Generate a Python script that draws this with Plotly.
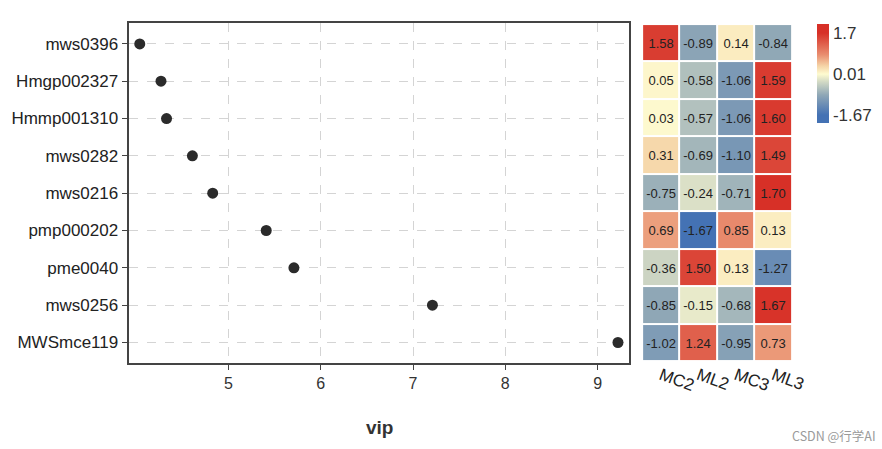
import plotly.graph_objs as go

# 代谢物（自上而下）
features = ['mws0396', 'Hmgp002327', 'Hmmp001310', 'mws0282', 'mws0216',
            'pmp000202', 'pme0040', 'mws0256', 'MWSmce119']
vip = [4.04, 4.27, 4.33, 4.61, 4.83, 5.41, 5.71, 7.21, 9.22]

groups = ['MC2', 'ML2', 'MC3', 'ML3']
mc2 = [1.58, 0.05, 0.03, 0.31, -0.75, 0.69, -0.36, -0.85, -1.02]
ml2 = [-0.89, -0.58, -0.57, -0.69, -0.24, -1.67, 1.50, -0.15, 1.24]
mc3 = [0.14, -1.06, -1.06, -1.10, -0.71, 0.85, 0.13, -0.68, -0.95]
ml3 = [-0.84, 1.59, 1.60, 1.49, 1.70, 0.13, -1.27, 1.67, 0.73]

cb_vals = [-1.67, 0.01, 1.7]
cb_text = ['-1.67', '0.01', '1.7']

z = [list(r) for r in zip(mc2, ml2, mc3, ml3)]
font_family = 'Arial, Liberation Sans, sans-serif'

# colour bar in the reference runs a bit past the data limits
zlo, zhi = -2.0, 2.07
def pos(v):
    return (v - zlo) / (zhi - zlo)

cscale = [[0, '#4472b4'], [pos(-1.67), '#4472b4'], [pos(-0.85), '#8fa7b6'],
          [pos(-0.3), '#d3dac5'], [pos(0.01), '#fefbd0'], [pos(0.35), '#f5d3a6'],
          [pos(0.8), '#e98e70'], [pos(1.7), '#d73027'], [1, '#d73027']]

dot = go.Scatter(x=vip, y=features, mode='markers', xaxis='x', yaxis='y',
                 marker=dict(size=11, color='#2b2b2b'), showlegend=False)

heat = go.Heatmap(z=z, x=groups, y=features, xaxis='x2', yaxis='y2',
                  zmin=zlo, zmax=zhi, xgap=2, ygap=2, colorscale=cscale,
                  texttemplate='%{z:.2f}', textfont=dict(size=13, color='#222'),
                  colorbar=dict(x=817 / 882, xanchor='left', xpad=0,
                                y=1 - 24 / 449, yanchor='top', ypad=0,
                                thickness=12, thicknessmode='pixels',
                                len=99, lenmode='pixels', outlinewidth=0,
                                tickvals=cb_vals, ticktext=cb_text,
                                ticks='', tickfont=dict(size=17, color='#333')))

layout = go.Layout(
    width=882, height=449,
    margin=dict(l=0, r=0, t=0, b=0),
    paper_bgcolor='white', plot_bgcolor='white',
    font=dict(family=font_family, color='#222'),
    xaxis=dict(domain=[0.1458, 0.7135], range=[3.919, 9.343],
               tickvals=[5, 6, 7, 8, 9], ticks='outside', ticklen=5,
               tickcolor='#444', tickfont=dict(size=16, color='#333'),
               showgrid=True, gridcolor='#d4d4d4', griddash='dash',
               showline=True, linecolor='#444', linewidth=2, mirror=True,
               zeroline=False, automargin=False),
    yaxis=dict(domain=[0.1915, 0.948], range=[8.55, -0.55], type='category',
               ticks='outside', ticklen=5, tickcolor='#444',
               tickfont=dict(size=17, color='#222'),
               showgrid=True, gridcolor='#d4d4d4', griddash='dash',
               showline=True, linecolor='#444', linewidth=2, mirror=True,
               zeroline=False, automargin=False),
    xaxis2=dict(domain=[0.728, 0.898], anchor='y2', tickangle=20,
                tickfont=dict(size=17, color='#222'), showgrid=False,
                zeroline=False, showline=False, automargin=False),
    yaxis2=dict(domain=[0.195, 0.9465], anchor='x2', range=[8.5, -0.5],
                showticklabels=False, showgrid=False, zeroline=False,
                automargin=False),
    annotations=[
        dict(text='<b>vip</b>', x=0.43, y=1 - 427 / 449, xref='paper', yref='paper',
             yanchor='middle', showarrow=False, font=dict(size=19, color='#333')),
        dict(text='CSDN @行学AI', x=0.995, y=1 - 435 / 449, xref='paper', yref='paper',
             xanchor='right', yanchor='middle', showarrow=False,
             font=dict(size=12.5, color='#9a9a9a', family='Noto Sans CJK SC')),
    ],
)

fig = go.Figure(data=[dot, heat], layout=layout)
fig.write_html("out.html", config={'displayModeBar': False},
               post_script="document.body.style.margin='0';")
